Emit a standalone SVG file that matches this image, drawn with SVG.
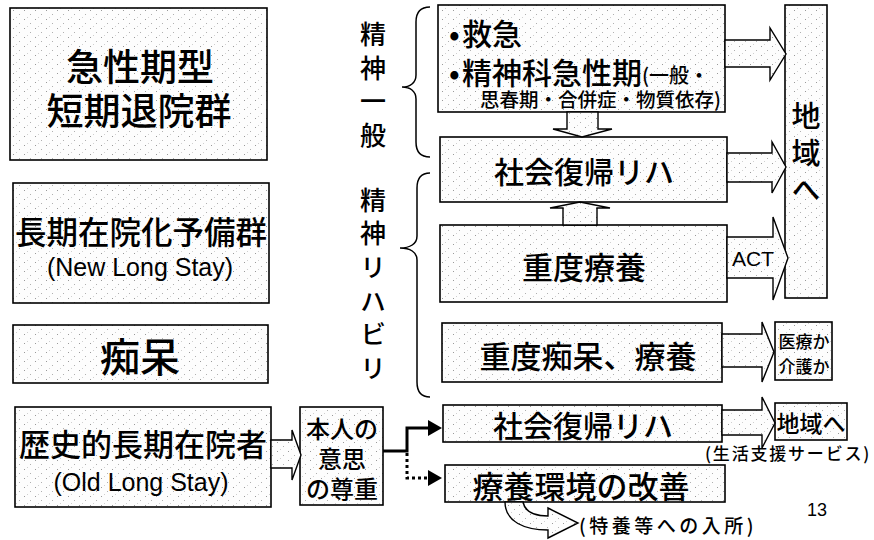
<svg xmlns="http://www.w3.org/2000/svg" width="874" height="540" viewBox="0 0 874 540">
<style>
.box{fill:url(#dots);stroke:#000;stroke-width:1.6}
.harr{fill:url(#dots);stroke:#000;stroke-width:1.4;stroke-linejoin:miter}
.jp{font-family:"Noto Sans CJK JP","Noto Sans CJK SC",sans-serif;font-weight:500;fill:#000;dominant-baseline:central}
.vt{font-family:"Noto Sans CJK JP","Noto Sans CJK SC",sans-serif;font-weight:500;fill:#000;writing-mode:vertical-rl}
.la{font-family:"Liberation Sans",Arial,sans-serif;fill:#000;dominant-baseline:central}
.mid{text-anchor:middle}
.brace{fill:none;stroke:#000;stroke-width:1.5}
.conn{fill:none;stroke:#000;stroke-width:3}
</style>
<defs>
<pattern id="dots" width="11" height="9" patternUnits="userSpaceOnUse">
<rect width="11" height="9" fill="#fdfdfd"/>
<rect x="2" y="1" width="1" height="1" fill="#9a9a9a"/>
<rect x="8" y="5" width="1" height="1" fill="#b0b0b0"/>
<rect x="5" y="8" width="1" height="1" fill="#d0d0d0"/>
</pattern>
<marker id="head" viewBox="0 0 14 16" refX="0" refY="8" markerWidth="14" markerHeight="16" markerUnits="userSpaceOnUse" orient="auto">
<path d="M0,0 L14,8 L0,16 Z" fill="#000"/>
</marker>
</defs>
<rect width="874" height="540" fill="#fff"/>

<g id="acute">
<rect class="box" x="10" y="8" width="257" height="152"/>
<text class="jp mid" x="140" y="65" font-size="37">急性期型</text>
<text class="jp mid" x="139" y="109" font-size="37">短期退院群</text>
</g>

<g id="newlong">
<rect class="box" x="13" y="183" width="256" height="120"/>
<text class="jp mid" x="141" y="230" font-size="31.5">長期在院化予備群</text>
<text class="la mid" x="140" y="267" font-size="25">(New Long Stay)</text>
</g>

<g id="dementia">
<rect class="box" x="13" y="325" width="255" height="58"/>
<text class="jp mid" x="140" y="355" font-size="40">痴呆</text>
</g>

<g id="oldlong">
<rect class="box" x="15" y="407" width="256" height="100"/>
<text class="jp mid" x="143" y="442" font-size="31">歴史的長期在院者</text>
<text class="la mid" x="141" y="482" font-size="25">(Old Long Stay)</text>
</g>

<g id="label-general">
<text class="vt" x="373" y="21" font-size="26" letter-spacing="7.7">精神一般</text>
<path class="brace" d="M430,7 C420,7 416,12 416,22 L416,75 C416,83 410,87 402,87 C410,87 416,91 416,99 L416,142 C416,152 420,157 430,157"/>
</g>

<g id="label-rehab">
<text class="vt" x="373" y="187" font-size="26" letter-spacing="7.6">精神リハビリ</text>
<path class="brace" d="M430,173 C421,173 417,178 417,188 L417,236 C417,244 410,248 400,248 C410,248 417,252 417,260 L417,382 C417,392 421,397 430,397"/>
</g>

<g id="emergency">
<rect class="box" x="438" y="5" width="287" height="107"/>
<text class="jp" font-size="30" y="32"><tspan x="449">•</tspan><tspan x="462">救急</tspan></text>
<text class="jp" font-size="30" y="71"><tspan x="449">•</tspan><tspan x="462">精神科急性期</tspan><tspan font-size="20" dy="3">(一般・</tspan></text>
<text class="jp" font-size="19.5" x="480" y="98">思春期・合併症・物質依存)</text>
</g>

<g id="rehab1">
<rect class="box" x="440" y="137" width="287" height="65"/>
<text class="jp mid" x="584" y="170" font-size="30">社会復帰リハ</text>
</g>

<g id="severe-care">
<rect class="box" x="440" y="225" width="287" height="77"/>
<text class="jp mid" x="584" y="265" font-size="31">重度療養</text>
</g>

<g id="severe-dementia">
<rect class="box" x="442" y="323" width="280" height="59"/>
<text class="jp mid" x="588" y="354" font-size="31">重度痴呆、療養</text>
</g>

<g id="community">
<rect class="box" x="785" y="5" width="42" height="293"/>
<text class="vt" x="806" y="101" font-size="29" letter-spacing="8">地域へ</text>
</g>

<g id="medical-or-care">
<rect class="box" x="775" y="322" width="57" height="58"/>
<text class="jp mid" x="804" y="340" font-size="17">医療か</text>
<text class="jp mid" x="804" y="365" font-size="17">介護か</text>
</g>

<g id="respect">
<rect class="box" x="300" y="407" width="83" height="98"/>
<text class="jp mid" x="342" y="427" font-size="24">本人の</text>
<text class="jp mid" x="342" y="457" font-size="24">意思</text>
<text class="jp mid" x="342" y="487" font-size="24">の尊重</text>
</g>

<g id="rehab2">
<rect class="box" x="443" y="405" width="279" height="37"/>
<text class="jp mid" x="583" y="424" font-size="30">社会復帰リハ</text>
</g>

<g id="community2">
<rect class="box" x="775" y="403" width="72" height="37"/>
<text class="jp mid" x="811" y="422" font-size="23">地域へ</text>
</g>

<g id="care-env">
<rect class="box" x="445" y="465" width="280" height="37"/>
<text class="jp mid" x="581" y="484" font-size="31">療養環境の改善</text>
</g>

<g id="connectors">
<polygon class="harr" points="725,40 770,40 770,28 786,54 770,80 770,67 725,67"/>
<polygon class="harr" points="727,153 772,153 772,142 786,167 772,193 772,182 727,182"/>
<polygon class="harr" points="727,237 773,237 773,217 788,258 773,300 773,278 727,278"/>
<text class="la mid" x="753" y="258" font-size="21">ACT</text>
<polygon class="harr" points="722,334 762,334 762,322 774,352 762,382 762,367 722,367"/>
<polygon class="harr" points="722,410 762,410 762,397 775,423 762,448 762,435 722,435"/>
<polygon class="harr" points="271,440 292,440 292,430 301,455 292,480 292,468 271,468"/>
<polygon class="harr" points="567,112 598,112 598,129 612,129 582,137 553,129 567,129"/>
<polygon class="harr" points="563,225 563,208 550,208 580,202 610,208 597,208 597,225"/>
<path class="harr" d="M505,502 C505,522 525,530 548,530 L548,538 L578,523 L548,508 L548,516 C535,516 525,512 523,502 Z"/>
<path class="conn" d="M383,451 H407 V428 H428" marker-end="url(#head)"/>
<path class="conn" d="M407,453 V478 H428" stroke-dasharray="3 3" marker-end="url(#head)"/>
</g>

<text class="jp" x="705" y="452" font-size="17" letter-spacing="1.8">(生活支援サービス)</text>
<text class="jp" x="579" y="524" font-size="19" letter-spacing="3.5">(特養等への入所)</text>
<text class="la" x="807" y="510" font-size="18">13</text>
</svg>
